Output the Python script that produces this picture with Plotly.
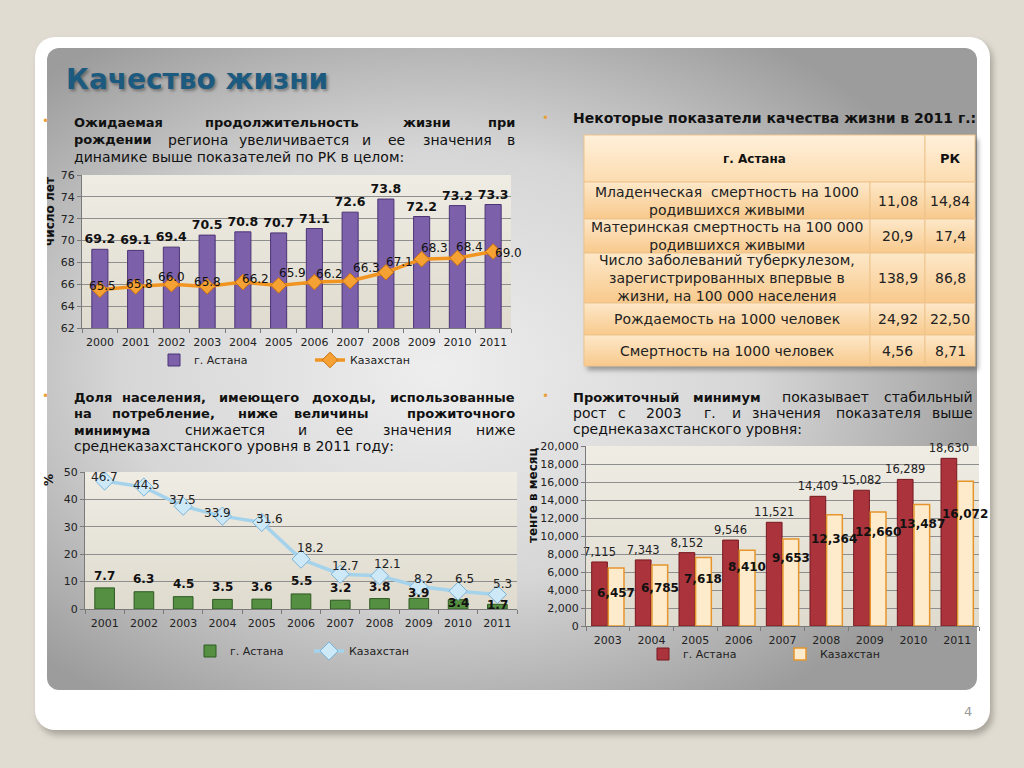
import base64
import plotly.graph_objects as go

# The page keeps the browser's default 8px body margin, so the figure is
# 1008x752 and sits at (8, 8); all layout positions below are page pixels.
PAD = 8
FW, FH = 1024 - 2 * PAD, 768 - 2 * PAD


def X(p):
    return (p - PAD) / FW


def Y(p):
    return 1 - (p - PAD) / FH


FONT = "DejaVu Sans"

# ---------------- data ----------------
years_life = ["2000", "2001", "2002", "2003", "2004", "2005", "2006", "2007", "2008", "2009", "2010", "2011"]
life_astana = [69.2, 69.1, 69.4, 70.5, 70.8, 70.7, 71.1, 72.6, 73.8, 72.2, 73.2, 73.3]
life_kz = [65.5, 65.8, 66.0, 65.8, 66.2, 65.9, 66.2, 66.3, 67.1, 68.3, 68.4, 69.0]

years_poverty = ["2001", "2002", "2003", "2004", "2005", "2006", "2007", "2008", "2009", "2010", "2011"]
poverty_astana = [7.7, 6.3, 4.5, 3.5, 3.6, 5.5, 3.2, 3.8, 3.9, 3.4, 1.7]
poverty_kz = [46.7, 44.5, 37.5, 33.9, 31.6, 18.2, 12.7, 12.1, 8.2, 6.5, 5.3]

years_min = ["2003", "2004", "2005", "2006", "2007", "2008", "2009", "2010", "2011"]
min_astana = [7115, 7343, 8152, 9546, 11521, 14409, 15082, 16289, 18630]
min_kz = [6457, 6785, 7618, 8410, 9653, 12364, 12660, 13487, 16072]

table_header = ["г. Астана", "РК"]
table_labels = [
    "Младенческая  смертность на 1000<br>родившихся живыми",
    "Материнская смертность на 100 000<br>родившихся живыми",
    "Число заболеваний туберкулезом,<br>зарегистрированных впервые в<br>жизни, на 100 000 населения",
    "Рождаемость на 1000 человек",
    "Смертность на 1000 человек",
]
table_astana = ["11,08", "20,9", "138,9", "24,92", "4,56"]
table_rk = ["14,84", "17,4", "86,8", "22,50", "8,71"]

# ---------------- layout geometry (page pixels) ----------------
D1X, D1Y = (82, 511), (175, 328)
D2X, D2Y = (85, 517), (472, 609)
D3X, D3Y = (586, 979), (446, 626)
TX = [584, 870, 925, 975]
TY = [135, 182, 219, 253, 303, 335, 366]

# ---------------- background decoration as SVG ----------------
def prect(d_x, d_y):
    return (f'<rect x="{d_x[0]}" y="{d_y[0]}" width="{d_x[1]-d_x[0]}" '
            f'height="{d_y[1]-d_y[0]}" fill="url(#pb)"/>')


cells = [f'<rect x="{TX[0]+3}" y="{TY[0]+4}" width="{TX[3]-TX[0]}" height="{TY[-1]-TY[0]}" '
         f'fill="#555" opacity="0.55" filter="url(#blur2)"/>',
         f'<rect x="{TX[0]}" y="{TY[0]}" width="{TX[2]-TX[0]}" height="{TY[1]-TY[0]}" '
         f'fill="url(#hcell)" stroke="#eec48c" stroke-width="1"/>',
         f'<rect x="{TX[2]}" y="{TY[0]}" width="{TX[3]-TX[2]}" height="{TY[1]-TY[0]}" '
         f'fill="url(#hcell)" stroke="#eec48c" stroke-width="1"/>']
for r in range(1, len(TY) - 1):
    for c in range(3):
        cells.append(f'<rect x="{TX[c]}" y="{TY[r]}" width="{TX[c+1]-TX[c]}" height="{TY[r+1]-TY[r]}" '
                     f'fill="url(#cell)" stroke="#eec48c" stroke-width="1"/>')

svg = f'''<svg xmlns="http://www.w3.org/2000/svg" width="{FW}" height="{FH}" viewBox="{PAD} {PAD} {FW} {FH}" preserveAspectRatio="none">
<defs>
<radialGradient id="pg" cx="0.42" cy="0.5" r="0.62">
<stop offset="0" stop-color="#eeeeee"/><stop offset="0.55" stop-color="#d6d6d6"/><stop offset="1" stop-color="#9c9c9c"/>
</radialGradient>
<linearGradient id="pb" x1="0" y1="0" x2="0" y2="1">
<stop offset="0" stop-color="#efece4"/><stop offset="1" stop-color="#dfdbce"/>
</linearGradient>
<linearGradient id="cell" x1="0" y1="0" x2="0" y2="1">
<stop offset="0" stop-color="#fde8c9"/><stop offset="1" stop-color="#f8c98c"/>
</linearGradient>
<linearGradient id="hcell" x1="0" y1="0" x2="0" y2="1">
<stop offset="0" stop-color="#fff0da"/><stop offset="1" stop-color="#fcdcb0"/>
</linearGradient>
<filter id="blur" x="-5%" y="-5%" width="110%" height="110%"><feGaussianBlur stdDeviation="3"/></filter>
<filter id="blur2" x="-5%" y="-5%" width="110%" height="110%"><feGaussianBlur stdDeviation="2.5"/></filter>
</defs>
<rect x="0" y="0" width="1024" height="768" fill="#e0dcd2"/>
<rect x="38" y="41" width="955" height="694" rx="20" fill="#aaa69c" filter="url(#blur)"/>
<rect x="35" y="37" width="955" height="693" rx="20" fill="#ffffff"/>
<rect x="47" y="48" width="930" height="642" rx="12" fill="url(#pg)"/>
{prect(D1X, D1Y)}
{prect(D2X, D2Y)}
{prect(D3X, D3Y)}
{''.join(cells)}
</svg>'''
bg_uri = "data:image/svg+xml;base64," + base64.b64encode(svg.encode("utf-8")).decode("ascii")

# ---------------- traces ----------------
fig = go.Figure()

fig.add_trace(go.Bar(
    x=years_life, y=life_astana, name="г. Астана", xaxis="x", yaxis="y", legend="legend",
    width=0.45, marker=dict(color="#7d60aa", line=dict(color="#4b3474", width=1)),
    texttemplate="%{y:.1f}", textposition="outside", constraintext="none",
    textfont=dict(family=FONT, size=12.5, color="#111", weight="bold"), cliponaxis=False,
))
fig.add_trace(go.Scatter(
    x=years_life, y=life_kz, name="Казахстан", xaxis="x", yaxis="y", legend="legend",
    mode="lines+markers", line=dict(color="#f29420", width=3.5),
    marker=dict(symbol="diamond", size=12, color="#f6a134", line=dict(color="#c8700f", width=1)),
))

fig.add_trace(go.Bar(
    x=years_poverty, y=poverty_astana, name="г. Астана", xaxis="x2", yaxis="y2", legend="legend2",
    width=0.5, marker=dict(color="#558f41", line=dict(color="#2d5a22", width=1)),
))
fig.add_trace(go.Scatter(
    x=years_poverty, y=poverty_kz, name="Казахстан", xaxis="x2", yaxis="y2", legend="legend2",
    mode="lines+markers", line=dict(color="#a6d3ec", width=3.5),
    marker=dict(symbol="diamond", size=14, color="#cde8f7", line=dict(color="#78b4da", width=1)),
))

fig.add_trace(go.Bar(
    x=years_min, y=min_astana, name="г. Астана", xaxis="x3", yaxis="y3", legend="legend3",
    offset=-0.37, width=0.36, marker=dict(color="#ab343c", line=dict(color="#76191f", width=1)),
    texttemplate="%{y:,d}", textposition="outside", constraintext="none",
    textfont=dict(family=FONT, size=11.5, color="#222"), cliponaxis=False,
))
fig.add_trace(go.Bar(
    x=years_min, y=min_kz, name="Казахстан", xaxis="x3", yaxis="y3", legend="legend3",
    offset=0.01, width=0.36, marker=dict(color="#fdebcc", line=dict(color="#e5952c", width=1.5)),
))

# ---------------- annotations ----------------
ann = []


def ptext(x, y, text, size=14, bold=False, color="#111", xanchor="center", **kw):
    ann.append(dict(x=X(x), y=Y(y), xref="paper", yref="paper", xanchor=xanchor, yanchor="middle",
                    text=text, showarrow=False,
                    font=dict(family=FONT, size=size, color=color,
                              weight="bold" if bold else "normal", **kw.pop("font", {})), **kw))


# title
ptext(64, 80, "Качество жизни", size=28, bold=True, color="#1d5a80", xanchor="left",
      font=dict(shadow="2px 2px 3px rgba(0,0,0,0.35)"))
# page number
ptext(968, 711, "4", size=13, color="#9a9a9a")
# bullets
for bx, by in [(45, 121), (45, 396), (545, 118), (545, 396)]:
    ptext(bx, by, "•", size=12, color="#eaa040")

# justified paragraphs: (word, anchor, x, bold); anchor L/C/R
blocks = [
    (122, [("Ожидаемая", "L", 72, 1), ("продолжительность", "C", 282, 1), ("жизни", "C", 427, 1),
           ("при", "R", 517, 1)]),
    (140, [("рождении", "L", 72, 1), ("региона", "C", 198, 0), ("увеличивается", "C", 294, 0),
           ("и", "C", 366, 0), ("ее", "C", 396, 0), ("значения", "C", 457, 0), ("в", "R", 517, 0)]),
    (157, [("динамике выше показателей по РК в целом:", "L", 72, 0)]),
    (397, [("Доля", "L", 72, 1), ("населения,", "C", 164, 1), ("имеющего", "C", 259, 1),
           ("доходы,", "C", 344, 1), ("использованные", "R", 517, 1)]),
    (413, [("на", "L", 72, 1), ("потребление,", "C", 163, 1), ("ниже", "C", 258, 1),
           ("величины", "C", 331, 1), ("прожиточного", "R", 517, 1)]),
    (430, [("минимума", "L", 72, 1), ("снижается", "C", 225, 0), ("и", "C", 302, 0), ("ее", "C", 344, 0),
           ("значения", "C", 417, 0), ("ниже", "R", 517, 0)]),
    (446, [("среднеказахстанского уровня в 2011 году:", "L", 72, 0)]),
    (397, [("Прожиточный", "L", 571, 1), ("минимум", "C", 727, 1), ("показывает", "C", 825, 0),
           ("стабильный", "R", 975, 0)]),
    (413, [("рост", "L", 571, 0), ("с", "C", 622, 0), ("2003", "C", 664, 0), ("г.", "C", 710, 0),
           ("и", "C", 736, 0), ("значения", "C", 786, 0), ("показателя", "C", 878, 0), ("выше", "R", 975, 0)]),
    (429, [("среднеказахстанского уровня:", "L", 571, 0)]),
]
anch = {"L": "left", "C": "center", "R": "right"}
for ly, words in blocks:
    for w, a, wx, b in words:
        ptext(wx, ly, w, size=13 if b else 14, bold=bool(b), xanchor=anch[a])
ptext(571, 118, "Некоторые показатели качества жизни в 2011 г.:", size=14, bold=True, xanchor="left")

# axis titles
ptext(50, 212, "число лет", size=12, bold=True, textangle=-90)
ptext(49, 480, "%", size=12, bold=True, textangle=-90)
ptext(533, 495, "тенге в месяц", size=12, bold=True, textangle=-90)

# chart 1 Kazakhstan labels (x = category index on axis x)
k1_dx = [3, 4, 0, 0, 13, 14, 15, 16, 14, 13, 12, 15]
k1_dy = [4, 2, 7, 4, 3, 12, 8, 13, 10, 11, 11, -2]
for i, (yv, dx, dy) in enumerate(zip(life_kz, k1_dx, k1_dy)):
    ann.append(dict(x=i, y=yv, xref="x", yref="y", text=f"{yv:.1f}", showarrow=False,
                    xshift=dx, yshift=dy, font=dict(family=FONT, size=12, color="#111")))

# chart 2 labels
a2_dy = [12, 13, 13, 12, 12, 13, 12, 12, 5, -3, -1]
for i, (yv, dy) in enumerate(zip(poverty_astana, a2_dy)):
    ann.append(dict(x=i, y=yv, xref="x2", yref="y2", text=f"{yv:.1f}", showarrow=False,
                    yshift=dy, font=dict(family=FONT, size=12, color="#111", weight="bold")))
k2_dx = [0, 3, -1, -5, 8, 9, 5, 8, 5, 6, 5]
k2_dy = [4, 2, 6, 3, 3, 11, 8, 12, 8, 12, 10]
for i, (yv, dx, dy) in enumerate(zip(poverty_kz, k2_dx, k2_dy)):
    ann.append(dict(x=i, y=yv, xref="x2", yref="y2", text=f"{yv:.1f}", showarrow=False,
                    xshift=dx, yshift=dy, font=dict(family=FONT, size=12, color="#222")))

# chart 3 Kazakhstan labels
k3_dy = [-25, -23, -22, -17, -19, -24, -20, -19, -33]
for i, (yv, dy) in enumerate(zip(min_kz, k3_dy)):
    ann.append(dict(x=i, y=yv, xref="x3", yref="y3", text=f"{yv:,}", showarrow=False,
                    xshift=8, yshift=dy, font=dict(family=FONT, size=12, color="#111", weight="bold")))

# table text
ptext((TX[0] + TX[2]) / 2, (TY[0] + TY[1]) / 2, table_header[0], size=12, bold=True)
ptext((TX[2] + TX[3]) / 2, (TY[0] + TY[1]) / 2, table_header[1], size=13, bold=True)
for i, (lab, va, vr) in enumerate(zip(table_labels, table_astana, table_rk)):
    cy = (TY[i + 1] + TY[i + 2]) / 2
    ptext((TX[0] + TX[1]) / 2, cy, lab, size=14, color="#222", align="center")
    ptext((TX[1] + TX[2]) / 2, cy, va, size=14, color="#222")
    ptext((TX[2] + TX[3]) / 2, cy, vr, size=14, color="#222")

# ---------------- axes ----------------
tickfont = dict(family=FONT, size=11, color="#222")
common_x = dict(type="category", tickfont=tickfont, showline=True, linecolor="#7a7a7a",
                ticks="outside", tickson="boundaries", ticklen=4, tickcolor="#7a7a7a",
                ticklabelstandoff=4,
                showgrid=False, fixedrange=True, tickangle=0, automargin=False)
common_y = dict(tickfont=tickfont, showline=True, linecolor="#7a7a7a", ticks="outside",
                ticklen=4, tickcolor="#7a7a7a", gridcolor="#8e8e8e", gridwidth=1,
                zeroline=False, fixedrange=True, automargin=False)

legend_common = dict(orientation="h", xanchor="left", yanchor="middle", bgcolor="rgba(0,0,0,0)",
                     font=dict(family=FONT, size=11, color="#222"), traceorder="normal",
                     itemclick=False, itemdoubleclick=False)

fig.update_layout(
    width=FW, height=FH, autosize=False,
    margin=dict(l=0, r=0, t=0, b=0, pad=0),
    paper_bgcolor="#e0dcd2", plot_bgcolor="rgba(0,0,0,0)",
    barmode="overlay", showlegend=True,
    font=dict(family=FONT),
    xaxis=dict(domain=[X(D1X[0]), X(D1X[1])], anchor="y", range=[-0.5, len(years_life) - 0.5], **common_x),
    yaxis=dict(domain=[Y(D1Y[1]), Y(D1Y[0])], anchor="x", range=[62, 76], dtick=2, **common_y),
    xaxis2=dict(domain=[X(D2X[0]), X(D2X[1])], anchor="y2", range=[-0.5, len(years_poverty) - 0.5], **common_x),
    yaxis2=dict(domain=[Y(D2Y[1]), Y(D2Y[0])], anchor="x2", range=[0, 50], dtick=10, **common_y),
    xaxis3=dict(domain=[X(D3X[0]), X(D3X[1])], anchor="y3", range=[-0.5, len(years_min) - 0.5], **common_x),
    yaxis3=dict(domain=[Y(D3Y[1]), Y(D3Y[0])], anchor="x3", range=[0, 20000], dtick=2000,
                tickformat=",d", **common_y),
    legend=dict(x=X(154), y=Y(360), entrywidth=111, **legend_common),
    legend2=dict(x=X(190), y=Y(651), entrywidth=74, **legend_common),
    legend3=dict(x=X(643), y=Y(654), entrywidth=92, **legend_common),
    annotations=ann,
    images=[dict(source=bg_uri, xref="paper", yref="paper", x=0, y=1, sizex=1, sizey=1,
                 xanchor="left", yanchor="top", sizing="stretch", layer="below")],
)

fig.write_html("out.html", config={"displayModeBar": False},
               post_script="document.body.style.background='#e0dcd2';")
